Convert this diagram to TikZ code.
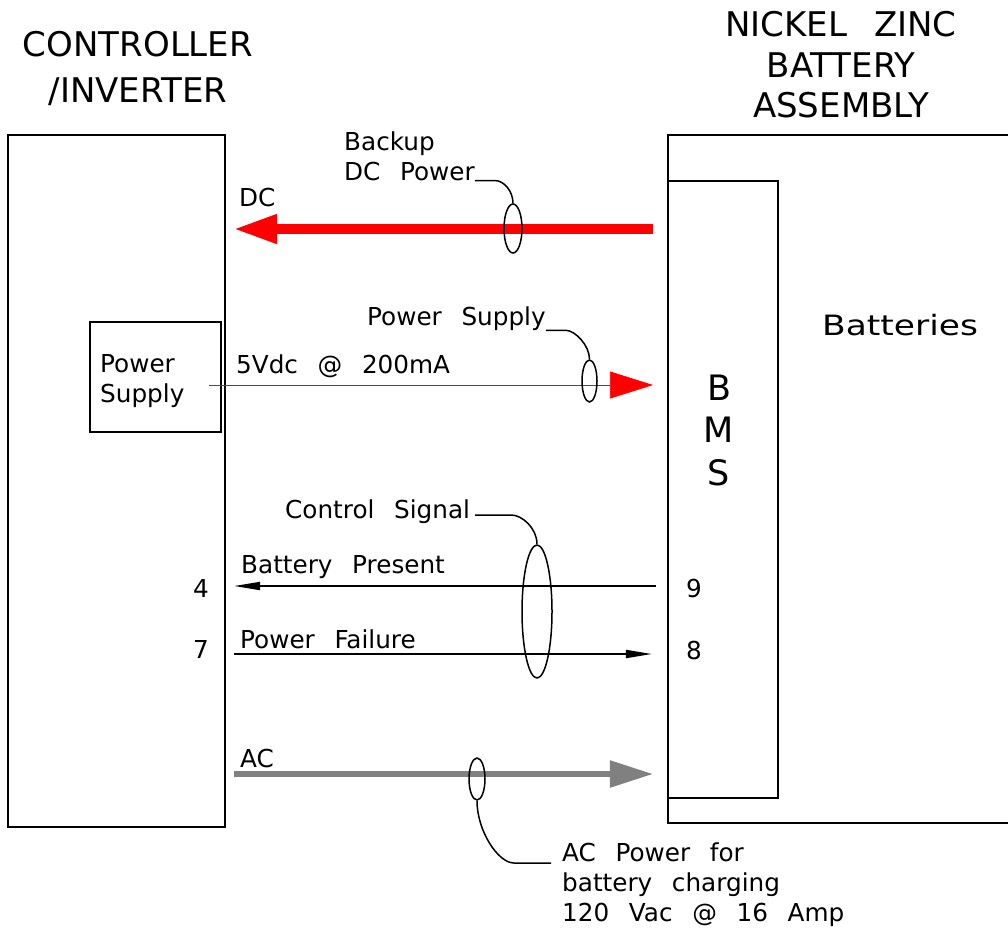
\documentclass[tikz,border=0pt]{standalone}
\usepackage{fontspec}
\setmainfont{DejaVu Sans}[WordSpace=2.5]
\usepackage{graphicx}
\usetikzlibrary{positioning, arrows.meta, shapes.geometric}

\newcommand{\lblsize}{\fontsize{24.7}{30}\selectfont}
\newcommand{\ttlsize}{\fontsize{34}{46}\selectfont}

\begin{document}
\begin{tikzpicture}[
        x=1pt, y=-1pt,
        >=Latex,
        unit/.style={draw, line width=2.1pt, inner sep=0pt},
        bundle/.style={ellipse, draw, line width=1.5pt, inner sep=0pt},
        lbl/.style={inner sep=0pt, font=\lblsize, align=left},
        leader/.style={line width=1.5pt},
        dcline/.style={draw=red, line width=10pt, -{Triangle[length=44pt, width=27pt]}},
        psline/.style={draw=red, line width=0.6pt, -{Triangle[length=43pt, width=27pt]}},
        sigline/.style={line width=1.8pt, -{Triangle[length=26pt, width=8pt]}},
        acline/.style={draw=black!50, line width=5.5pt, -{Triangle[length=43pt, width=26pt]}}
    ]
        \useasboundingbox (0,0) rectangle (1008,928);

        % boxes
        \node[unit, minimum width=217pt, minimum height=692pt] (ctrl) at (116.5,481) {};
        \node[unit, minimum width=131pt, minimum height=110pt] (psbox) at (155.5,377) {};
        \node[unit, minimum width=110pt, minimum height=617pt] (bms) at (723,489.5) {};
        \draw[line width=2.1pt] (1015,135) -- (668,135) -- (668,823) -- (1015,823);

        % titles (base = last line)
        \node[inner sep=0pt, font=\ttlsize, align=center, anchor=base] (ctrltitle) at (138,103) {CONTROLLER\\/INVERTER};
        \node[inner sep=0pt, font=\fontsize{34}{40.5}\selectfont, align=center, anchor=base] (batttitle) at (841,118) {NICKEL ZINC\\BATTERY\\ASSEMBLY};
        \node[inner sep=0pt, font=\fontsize{28}{34}\selectfont, anchor=base west] (batteries) at (822,335) {\scalebox{1.23}[1]{Batteries}};
        \node[inner sep=0pt, font=\fontsize{35}{42.5}\selectfont, align=center, anchor=base] (bmstext) at (719,485) {B\\M\\S};
        \node[lbl, anchor=base west] (pstext) at (100,402) {Power\\Supply};

        % rows
        \coordinate (dcrow) at (0,229);
        \coordinate (psrow) at (0,385);
        \coordinate (bprow) at (0,586);
        \coordinate (pfrow) at (0,654);
        \coordinate (acrow) at (0,774);

        % connectors
        \draw[dcline, shorten <=14pt, shorten >=7pt] (bms.west |- dcrow) -- (ctrl.east |- dcrow);
        \draw[psline, shorten <=-13pt, shorten >=14pt] (psbox.east |- psrow) -- (bms.west |- psrow);
        \draw[sigline, shorten <=11pt, shorten >=8pt] (bms.west |- bprow) -- (ctrl.east |- bprow);
        \draw[sigline, shorten <=8pt, shorten >=15pt] (ctrl.east |- pfrow) -- (bms.west |- pfrow);
        \draw[acline, shorten <=8pt, shorten >=14pt] (ctrl.east |- acrow) -- (bms.west |- acrow);

        % connector labels
        \node[lbl, anchor=base west] (dclabel) at (239,206) {DC};
        \node[lbl, anchor=base west] (vlabel) at (236,373) {5Vdc @ 200mA};
        \node[lbl, anchor=base west] (bplabel) at (241,573) {Battery Present};
        \node[lbl, anchor=base west] (pflabel) at (240,648) {Power Failure};
        \node[lbl, anchor=base west] (aclabel) at (240,767) {AC};
        \node[lbl, anchor=base east] (pin4) at (209,597) {4};
        \node[lbl, anchor=base east] (pin7) at (209,658) {7};
        \node[lbl, anchor=base west] (pin9) at (686,597) {9};
        \node[lbl, anchor=base west] (pin8) at (686,659) {8};

        % bundles and their notes
        \node[bundle, minimum width=18pt, minimum height=49pt] (dcbundle) at (513,228.5) {};
        \node[bundle, minimum width=15pt, minimum height=42pt] (psbundle) at (589.5,381) {};
        \node[bundle, minimum width=30pt, minimum height=133pt] (csbundle) at (537,611.5) {};
        \node[bundle, minimum width=16pt, minimum height=42pt] (acbundle) at (477,779) {};

        \node[lbl, anchor=base west] (dcnote) at (344,180) {Backup\\DC Power};
        \node[lbl, anchor=base west] (psnote) at (367,325) {Power Supply};
        \node[lbl, anchor=base west] (csnote) at (285,518) {Control Signal};
        \node[lbl, anchor=base west] (acnote) at (562,921) {AC Power for\\battery charging\\120 Vac @ 16 Amp};

        \draw[leader] (dcnote.south east) -- ++(20,0) .. controls +(9,0) and +(0,-12) .. (dcbundle.north);
        \draw[leader] (psnote.south east) -- ++(20,0) .. controls +(9,0) and +(0,-14) .. (psbundle.north);
        \draw[leader] ([xshift=5pt, yshift=3pt]csnote.base east) -- ++(36,0) .. controls +(11,0) and +(0,-16) .. (csbundle.north);
        \draw[leader] (acbundle.south) .. controls +(0,30) and +(-16,0) .. ([xshift=-48pt, yshift=58pt]acnote.base west) -- ++(37,0);
    \end{tikzpicture}
\end{document}
